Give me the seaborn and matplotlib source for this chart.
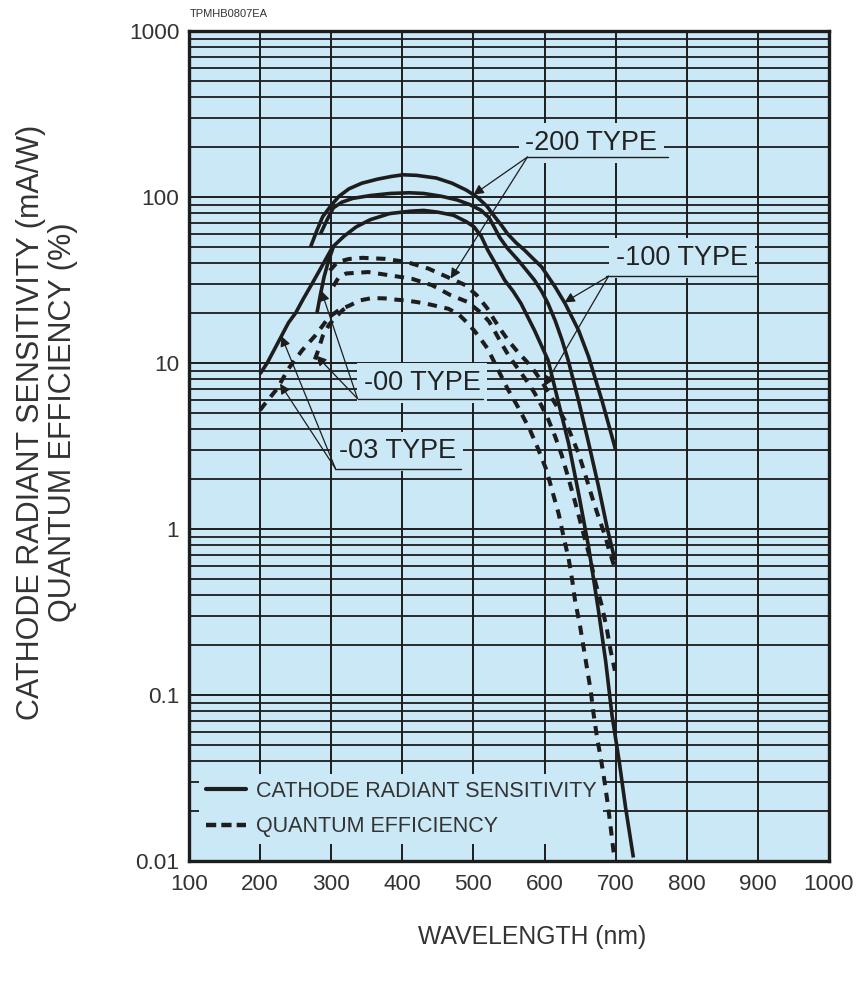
import numpy as np
import matplotlib
matplotlib.use("Agg")
import matplotlib.pyplot as plt
from matplotlib import font_manager as fm
from matplotlib.lines import Line2D
from matplotlib.ticker import FixedLocator, FixedFormatter, LogLocator, NullFormatter
import seaborn as sns

# ---------------- spectral response data ----------------
# cathode radiant sensitivity (mA/W), highest-peak photocathode
wl_sens_hi = [271, 280, 288, 300, 311, 325, 343, 365, 385, 401, 420, 448, 470, 490, 505,
              519, 530, 540, 548, 560, 572, 584, 596, 615, 629, 648, 662, 681, 700]
sens_hi = [50, 63, 76, 89, 101, 112, 121, 128, 133, 136, 135, 130, 121, 110, 100,
           88, 76, 67, 60, 53, 47.8, 42.5, 37.9, 28.7, 22.8, 15.7, 10.9, 5.9, 3.0]

# cathode radiant sensitivity (mA/W), middle photocathode
wl_sens_mid = [285, 295, 303, 315, 330, 355, 383, 410, 430, 455, 477, 495, 511, 522, 530,
               537, 548, 563, 575, 586, 596, 605, 615, 624, 633, 648, 662, 676, 688, 699]
sens_mid = [60, 74, 86, 93, 98, 102, 105, 106, 105, 101, 96, 90, 83, 75, 65,
            57, 49, 41.6, 36, 31.5, 27, 22.8, 18, 14, 10.5, 5.9, 3.3, 1.8, 1.02, 0.65]

# cathode radiant sensitivity (mA/W), standard photocathode on UV glass (-03)
wl_sens_std = [200, 210, 222, 240, 250, 260, 273, 285, 302, 318, 335, 355, 382, 410, 430,
               450, 472, 490, 501, 511, 520, 532, 544, 556, 567, 586, 605, 620, 634, 648,
               662, 676, 686, 695, 705, 714, 725]
sens_std = [8.6, 10, 12.5, 17.5, 20, 24, 30, 37, 50, 58, 66, 73, 79.4, 82, 83,
            81, 77.6, 71, 66, 58, 48, 39, 31.5, 27, 22.8, 15.7, 10.4, 5.7, 3.26, 1.63,
            0.78, 0.32, 0.16, 0.075, 0.04, 0.021, 0.0105]

# borosilicate window cut-off of the standard type (-00)
wl_sens_cut = [280, 285, 290, 296, 303]
sens_cut = [20, 26, 33, 41, 50]

# quantum efficiency (%)
wl_qe_hi = [298, 309, 325, 344, 375, 406, 437, 463, 489, 505, 519, 530, 540, 550, 562,
            575, 587, 598, 615, 630, 648, 657, 667, 676, 686, 691, 699]
qe_hi = [36, 40.6, 42.3, 43, 42.4, 40.6, 37, 33, 29.4, 25.5, 21.5, 18, 15.5, 13.5, 11.7,
         10.2, 8.8, 7.5, 5.7, 4.4, 2.84, 2.15, 1.55, 1.18, 0.89, 0.74, 0.58]

wl_qe_mid = [303, 310, 321, 352, 383, 413, 442, 468, 492, 511, 522, 530, 540, 550, 563,
             575, 586, 596, 605, 615, 624, 634, 644, 653, 662, 672, 681, 688, 693, 699]
qe_mid = [29, 32.5, 34.6, 35.3, 33.7, 32.2, 29.4, 25.6, 23.3, 20, 17.8, 15.5, 13, 11, 9.2,
          7.8, 6.6, 5.5, 4.6, 3.6, 2.8, 2.0, 1.4, 1.0, 0.72, 0.47, 0.34, 0.245, 0.185, 0.14]

wl_qe_std = [200, 205, 224, 240, 259, 278, 297, 312, 326, 340, 357, 375, 390, 405, 420,
             435, 449, 465, 480, 490, 501, 510, 520, 532, 548, 563, 579, 591, 603, 612,
             620, 627, 634, 639, 643, 650, 655, 660, 665, 669, 674, 679, 684, 689, 693,
             697, 700]
qe_std = [5.2, 5.55, 7.0, 9.25, 11.9, 14.7, 18.9, 21, 22.2, 23.8, 24.6, 24.5, 24.1, 23.8, 23.3,
          22.7, 22.0, 21.2, 19.5, 17.7, 15.7, 14, 12.2, 9.6, 7.0, 5.4, 4.0, 3.04, 2.25, 1.63,
          1.23, 0.89, 0.66, 0.49, 0.37, 0.26, 0.193, 0.143, 0.106, 0.077, 0.055, 0.042, 0.031,
          0.022, 0.016, 0.0115, 0.0098]

wl_qe_cut = [277, 282, 288, 297, 307, 316, 326]
qe_cut = [10.5, 12, 14.5, 17, 19, 20.8, 22.2]

x_ticks = [100, 200, 300, 400, 500, 600, 700, 800, 900, 1000]
y_ticks = [0.01, 0.1, 1, 10, 100, 1000]
y_tick_labels = ["0.01", "0.1", "1", "10", "100", "1000"]

# ---------------- style ----------------
sns.set_theme(style="white")


def has_font(name):
    try:
        fm.findfont(fm.FontProperties(family=name), fallback_to_default=False)
        return True
    except Exception:
        return False


# condensed face when present, otherwise the regular face at a width-matched size
NARROW = has_font("Liberation Sans Narrow")
COND = "Liberation Sans Narrow" if NARROW else "Liberation Sans"
plt.rcParams["font.family"] = ["Liberation Sans", "DejaVu Sans"]

BG = "#cbe8f6"
INK = "#1d1d1d"
TXT = "#333333"

fig = plt.figure(figsize=(8.59, 9.83), dpi=100)
ax = fig.add_axes([0.2200, 0.1241, 0.7450, 0.8444])
ax.set_facecolor(BG)
ax.set_yscale("log")
ax.set_xlim(100, 1000)
ax.set_ylim(0.01, 1000)

# grid: every 100 nm, and 1..9 within each decade
ax.xaxis.set_major_locator(FixedLocator(x_ticks))
ax.yaxis.set_major_locator(FixedLocator(y_ticks))
ax.yaxis.set_major_formatter(FixedFormatter(y_tick_labels))
ax.yaxis.set_minor_locator(LogLocator(base=10, subs=np.arange(2, 10)))
ax.yaxis.set_minor_formatter(NullFormatter())
ax.set_axisbelow(True)
ax.grid(which="major", axis="both", color=INK, lw=1.4)
ax.grid(which="minor", axis="y", color=INK, lw=1.3)
ax.tick_params(which="both", length=0)
ax.tick_params(axis="x", pad=9)
ax.tick_params(axis="y", pad=7)
for lab in ax.get_xticklabels() + ax.get_yticklabels():
    lab.set_fontfamily(COND)
    lab.set_fontsize(19 if NARROW else 16.2)
    lab.set_color(TXT)
for sp in ax.spines.values():
    sp.set_visible(True)
    sp.set_color(INK)
    sp.set_linewidth(2.4)

SOLID_LW = 2.6
DASH_LW = 2.9
DASH = (0, (2.3, 1.9))

solid_sets = [(wl_sens_hi, sens_hi), (wl_sens_mid, sens_mid),
              (wl_sens_std, sens_std), (wl_sens_cut, sens_cut)]
dashed_sets = [(wl_qe_hi, qe_hi), (wl_qe_mid, qe_mid),
               (wl_qe_std, qe_std), (wl_qe_cut, qe_cut)]
for wl, v in solid_sets:
    sns.lineplot(x=wl, y=v, ax=ax, color=INK, lw=SOLID_LW, estimator=None,
                 sort=False, zorder=4, solid_capstyle="butt")
for wl, v in dashed_sets:
    sns.lineplot(x=wl, y=v, ax=ax, color=INK, lw=DASH_LW, estimator=None,
                 sort=False, zorder=4, linestyle=DASH)
ax.set_xlabel("")
ax.set_ylabel("")


def on_curve(wl, vals, x):
    return 10 ** np.interp(x, wl, np.log10(vals))


# type callouts: text centre, underline span, leader origin, arrow targets
callouts = [
    ("-200 TYPE", (666, 211), (576, 774, 174), (576, 174),
     [(wl_sens_hi, sens_hi, 500), (wl_qe_hi, qe_hi, 468)]),
    ("-100 TYPE", (793, 42.8), (686, 897, 33.3), (690, 33.3),
     [(wl_sens_hi, sens_hi, 628), (wl_qe_hi, qe_hi, 600)]),
    ("-00 TYPE", (428, 7.6), (337, 513, 6.1), (337, 6.1),
     [(wl_sens_cut, sens_cut, 286), (wl_qe_cut, qe_cut, 279)]),
    ("-03 TYPE", (393, 2.93), (306, 482, 2.31), (306, 2.31),
     [(wl_sens_std, sens_std, 230), (wl_qe_std, qe_std, 228)]),
]
for text, (tx, ty), (u0, u1, uy), (ox, oy), targets in callouts:
    ax.text(tx, ty, text, ha="center", va="center", fontsize=19.5, color="#222222",
            family="Liberation Sans", zorder=2.5,
            bbox=dict(boxstyle="square,pad=0.25", fc=BG, ec="none"))
    ax.plot([u0, u1], [uy, uy], color=INK, lw=1.0, zorder=3)
    for wl, v, x in targets:
        ax.annotate("", xy=(x, on_curve(wl, v, x)), xytext=(ox, oy),
                    arrowprops=dict(arrowstyle="-|>", color=INK, lw=0.9,
                                    mutation_scale=15, shrinkA=0, shrinkB=0),
                    zorder=5)

leg_size = 18.5 if NARROW else 15.5
handles = [Line2D([], [], color=INK, lw=3.0),
           Line2D([], [], color=INK, lw=3.2, linestyle=(0, (2.3, 1.15)))]
leg = ax.legend(handles, ["CATHODE RADIANT SENSITIVITY", "QUANTUM EFFICIENCY"],
                loc="lower left", bbox_to_anchor=(0.016, 0.021), frameon=True,
                fancybox=False, facecolor=BG, edgecolor="none", framealpha=1,
                handlelength=1.86, handletextpad=0.47, labelspacing=0.66,
                borderpad=0.3, borderaxespad=0,
                prop=dict(family=COND, size=leg_size))
for t in leg.get_texts():
    t.set_color(TXT)
leg.set_zorder(2.5)

fig.text(532 / 859, 1 - 937 / 983, "WAVELENGTH (nm)", ha="center", va="center",
         fontsize=21.5 if NARROW else 17.8, family=COND, color=TXT)
fig.text(47 / 859, 1 - 422 / 983,
         "CATHODE RADIANT SENSITIVITY (mA/W)\nQUANTUM EFFICIENCY (%)",
         ha="center", va="center", rotation=90, multialignment="center",
         fontsize=26 if NARROW else 22, family=COND, color=TXT, linespacing=1.12)
fig.text(190 / 859, 1 - 14 / 983, "TPMHB0807EA", ha="left", va="center",
         fontsize=8, family=COND, color=TXT)

fig.savefig("out.png", dpi=100, facecolor="white")
